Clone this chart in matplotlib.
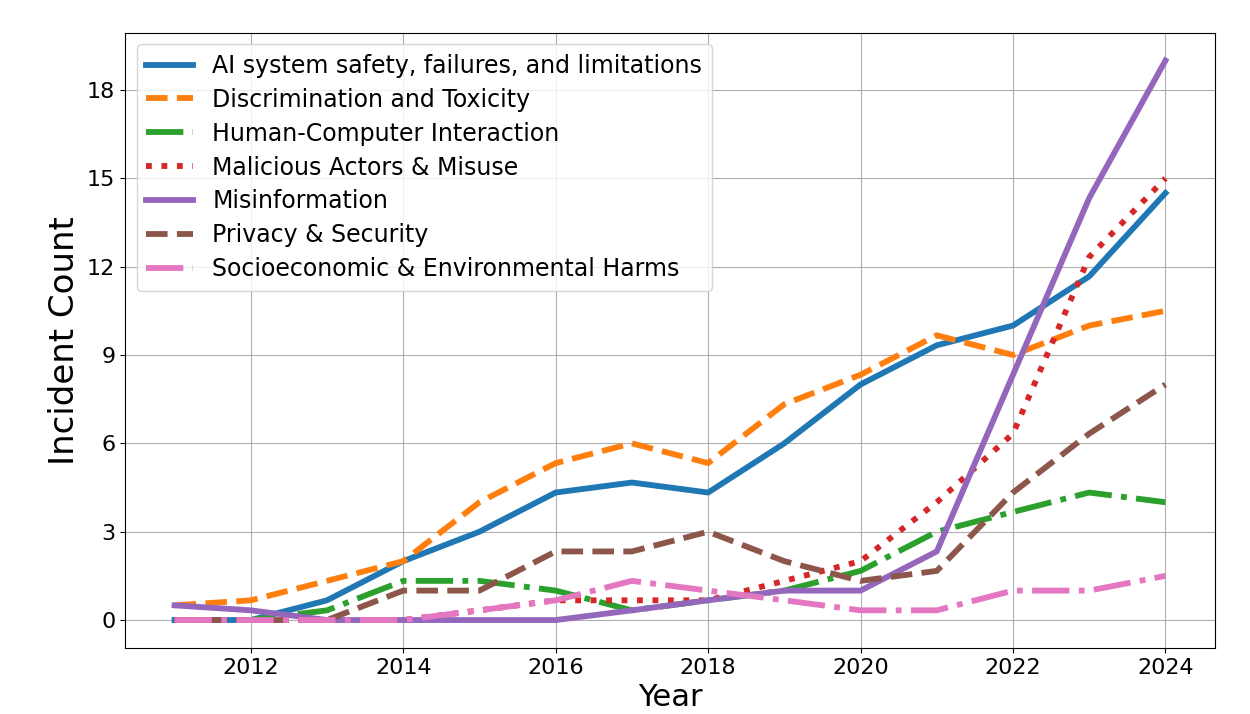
import matplotlib
matplotlib.use("Agg")
import matplotlib.pyplot as plt

years = list(range(2011, 2025))

ai_safety = [0, 0, 0.67, 2, 3, 4.33, 4.67, 4.33, 6, 8, 9.33, 10, 11.67, 14.5]
discrimination = [0.5, 0.67, 1.33, 2, 4, 5.33, 6, 5.33, 7.33, 8.33, 9.67, 9, 10, 10.5]
hci = [0, 0, 0.33, 1.33, 1.33, 1, 0.33, 0.67, 1, 1.67, 3, 3.67, 4.33, 4]
malicious = [0, 0, 0, 0, 0.33, 0.67, 0.67, 0.67, 1.33, 2, 4, 6.33, 12.33, 15]
misinformation = [0.5, 0.33, 0, 0, 0, 0, 0.33, 0.67, 1, 1, 2.33, 8.33, 14.33, 19]
privacy = [0, 0, 0, 1, 1, 2.33, 2.33, 3, 2, 1.33, 1.67, 4.33, 6.33, 8]
socioeconomic = [0, 0, 0, 0, 0.33, 0.67, 1.33, 1, 0.67, 0.33, 0.33, 1, 1, 1.5]

domains = [
    "AI system safety, failures, and limitations",
    "Discrimination and Toxicity",
    "Human-Computer Interaction",
    "Malicious Actors & Misuse",
    "Misinformation",
    "Privacy & Security",
    "Socioeconomic & Environmental Harms",
]
series = [ai_safety, discrimination, hci, malicious, misinformation, privacy, socioeconomic]
styles = ["-", "--", "-.", ":", "-", "--", "-."]

fig = plt.figure(figsize=(12.5, 7.14), dpi=100)
ax = fig.add_axes([0.1, 0.0924, 0.872, 0.862])

for name, vals, ls in zip(domains, series, styles):
    ax.plot(years, vals, linestyle=ls, linewidth=4.2, label=name)

ax.set_yticks(range(0, 19, 3))
ax.set_xticks(range(2012, 2025, 2))
ax.tick_params(labelsize=16)
ax.grid(True)
ax.set_xlabel("Year", fontsize=22, labelpad=4)
ax.set_ylabel("Incident Count", fontsize=24.5)
ax.legend(loc="upper left", fontsize=17, labelspacing=0.42)

fig.savefig("out.png", dpi=100)
